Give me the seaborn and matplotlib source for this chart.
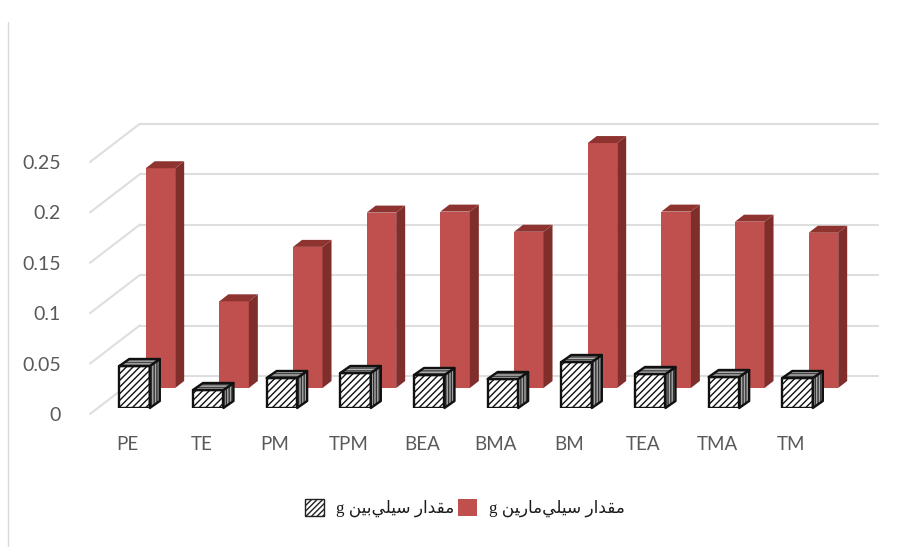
import matplotlib
matplotlib.use("Agg")
import matplotlib.pyplot as plt
import seaborn as sns
from matplotlib.lines import Line2D
from matplotlib.patches import Patch, Polygon
from matplotlib.transforms import ScaledTranslation

categories = ["PE", "TE", "PM", "TPM", "BEA", "BMA", "BM", "TEA", "TMA", "TM"]
silymarin = [0.218, 0.086, 0.140, 0.174, 0.175, 0.155, 0.243, 0.175, 0.165, 0.154]
silybin = [0.042, 0.018, 0.030, 0.035, 0.033, 0.029, 0.046, 0.034, 0.031, 0.030]
y_ticks = [0, 0.05, 0.1, 0.15, 0.2, 0.25]
y_tick_labels = ["0", "0.05", "0.1", "0.15", "0.2", "0.25"]

# Arabic written in presentation forms, left to right, because matplotlib does no shaping
label_silymarin = "g \uFEE6\uFEF4\uFEAD\uFE8E\uFEE3\uFEF2\uFEE0\uFEF4\uFEB3 \uFEAD\uFE8D\uFEAA\uFED8\uFEE3"
label_silybin = "g \uFEE6\uFEF4\uFE91\uFEF2\uFEE0\uFEF4\uFEB3 \uFEAD\uFE8D\uFEAA\uFED8\uFEE3"

W, H = 899, 547
sns.set_theme(style="white")
plt.rcParams["font.family"] = ["Lato", "DejaVu Sans"]
plt.rcParams["hatch.linewidth"] = 1.0


def px_axes(fig, left, right, top, bottom):
    ax = fig.add_axes([left / W, 1 - bottom / H, (right - left) / W, (bottom - top) / H])
    ax.set_facecolor("none")
    for s in ax.spines.values():
        s.set_visible(False)
    return ax


def add_depth(ax, dx_px, dy_px, side, top, outline=None):
    # side and top faces of each bar, worked out from the bar itself
    box = ax.get_window_extent()
    x0, x1 = ax.get_xlim()
    y0, y1 = ax.get_ylim()
    dx = dx_px * (x1 - x0) / box.width
    dy = dy_px * (y1 - y0) / box.height
    for bar in list(ax.patches):
        l, r, h = bar.get_x(), bar.get_x() + bar.get_width(), bar.get_height()
        faces = [([(r, 0), (r + dx, dy), (r + dx, h + dy), (r, h)], side),
                 ([(l, h), (r, h), (r + dx, h + dy), (l + dx, h + dy)], top)]
        for pts, style in faces:
            ax.add_patch(Polygon(pts, clip_on=False, **style))
            if outline:
                ax.add_patch(Polygon(pts, clip_on=False, fill=False, **outline))


fig = plt.figure(figsize=(W / 100, H / 100), dpi=100)
fig.add_artist(Line2D([8 / W, 8 / W], [1 - 22 / H, 1 - 546 / H], color="#D9D9D9", lw=1))

# back wall
wall = px_axes(fig, 140, 878, 124, 376)
wall.set_xlim(0, 1)
wall.set_ylim(0, 0.25)
wall.set_xticks([])
wall.set_yticks(y_ticks)
wall.set_yticklabels([])
wall.tick_params(length=0)
wall.grid(axis="y", color="#DEDEDE", lw=1.5, clip_on=False)

# side wall, holds the value labels
side_wall = px_axes(fig, 90, 140, 162, 414)
side_wall.set_xlim(0, 1)
side_wall.set_ylim(0, 0.25)
side_wall.set_xticks([])
side_wall.set_yticks(y_ticks)
side_wall.set_yticklabels(y_tick_labels, fontsize=14, color="#595959")
side_wall.tick_params(axis="y", length=0, pad=21)
for v in y_ticks:
    side_wall.plot([0, 1], [v, v + 0.038], color="#DEDEDE", lw=1.5, clip_on=False)

# silymarin bars, set back from the front plane
back = px_axes(fig, 123.6, 860.3, 136, 388)
sns.barplot(x=categories, y=silymarin, ax=back, color="#C0504D", saturation=1, width=0.4, linewidth=0)
back.set_xlim(-0.5, 9.5)
back.set_ylim(0, 0.25)
back.set_xticks([])
back.set_yticks([])
add_depth(back, 9, 7, dict(facecolor="#7F2E2C", edgecolor="none"), dict(facecolor="#8E3330", edgecolor="none"))

# silybin bars on the front plane
front = px_axes(fig, 97.7, 834.4, 158, 408)
sns.barplot(x=categories, y=silybin, ax=front, color="white", saturation=1, width=0.414,
            edgecolor="#111111", linewidth=1.7, hatch="/////", joinstyle="round")
front.set_xlim(-0.5, 9.5)
front.set_ylim(0, 0.25)
front.set_yticks([])
front.tick_params(axis="x", length=0, pad=20, labelsize=13.5, labelcolor="#595959")
shift = ScaledTranslation(-7 / 100, 0, fig.dpi_scale_trans)
for lab in front.get_xticklabels():
    lab.set_transform(lab.get_transform() + shift)
add_depth(front, 10, 7,
          dict(facecolor="#A8A8A8", edgecolor="#333333", linewidth=0, hatch="||||||"),
          dict(facecolor="#B5B5B5", edgecolor="#444444", linewidth=0, hatch="------"),
          outline=dict(edgecolor="#111111", linewidth=1.7, joinstyle="round"))

handles = [Patch(facecolor="white", edgecolor="#222222", hatch="//////", linewidth=1),
           Patch(facecolor="#C0504D", edgecolor="none")]
fig.legend(handles, [label_silybin, label_silymarin], ncols=2, frameon=False,
           loc="center", bbox_to_anchor=(465 / W, 1 - 508 / H),
           prop={"family": ["Liberation Serif", "DejaVu Sans"], "size": 12.2},
           handlelength=1.15, handleheight=1.2, handletextpad=0.7, columnspacing=0.2, labelcolor="#1A1A1A")

fig.savefig("out.png", dpi=100)
